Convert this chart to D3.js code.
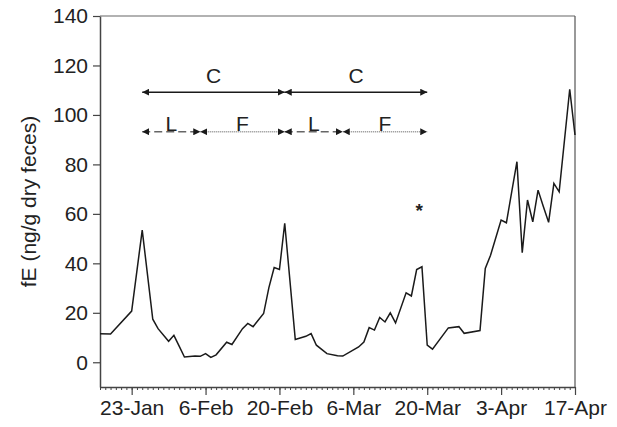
<!DOCTYPE html>
<html>
<head>
<meta charset="utf-8">
<script src="https://cdn.jsdelivr.net/npm/d3@7"></script>
<style>
  body { margin: 0; background: #fff; }
  text { font-family: "Liberation Sans", Arial, sans-serif; }
</style>
</head>
<body>
<div id="chart"></div>
<script>
// sampling dates and fE values (ng/g dry feces)
const dates = [
  "2007-01-17", "2007-01-19", "2007-01-23", "2007-01-25", "2007-01-27", "2007-01-28",
  "2007-01-30", "2007-01-31", "2007-02-01", "2007-02-02", "2007-02-04", "2007-02-05",
  "2007-02-06", "2007-02-07", "2007-02-08", "2007-02-10", "2007-02-11", "2007-02-13",
  "2007-02-14", "2007-02-15", "2007-02-17", "2007-02-18", "2007-02-19", "2007-02-20",
  "2007-02-21", "2007-02-23", "2007-02-25", "2007-02-26", "2007-02-27", "2007-03-01",
  "2007-03-03", "2007-03-04", "2007-03-07", "2007-03-08", "2007-03-09", "2007-03-10",
  "2007-03-11", "2007-03-12", "2007-03-13", "2007-03-14", "2007-03-16", "2007-03-17",
  "2007-03-18", "2007-03-19", "2007-03-20", "2007-03-21", "2007-03-24", "2007-03-26",
  "2007-03-27", "2007-03-30", "2007-03-31", "2007-04-01", "2007-04-03", "2007-04-04",
  "2007-04-06", "2007-04-07", "2007-04-08", "2007-04-09", "2007-04-10", "2007-04-11",
  "2007-04-12", "2007-04-13", "2007-04-14", "2007-04-16", "2007-04-17"
];
const values = [
  11.5, 11.4, 20.7, 53.4, 17.4, 13.6,
  8.5, 10.9, 6.5, 2.1, 2.5, 2.4,
  3.5, 2.0, 3.0, 8.1, 7.2, 13.6,
  15.7, 14.4, 19.7, 30.2, 38.3, 37.5,
  56.2, 9.2, 10.5, 11.6, 6.9, 3.5,
  2.6, 2.5, 6.2, 8.2, 14.0, 13.0,
  18.1, 16.3, 20.0, 15.9, 28.1, 26.8,
  37.5, 38.6, 6.9, 5.3, 13.9, 14.4,
  11.7, 12.8, 37.9, 43.3, 57.5, 56.4,
  81.1, 44.3, 65.6, 56.8, 69.6, 63.0,
  56.6, 72.3, 68.9, 110.4, 91.9
];

const xTickDates = ["2007-01-23", "2007-02-06", "2007-02-20", "2007-03-06", "2007-03-20", "2007-04-03", "2007-04-17"];
const yTicks = [0, 20, 40, 60, 80, 100, 120, 140];

// cycle annotations
const cycleStart = ["2007-01-25", "2007-02-21"];
const cycleEnd = ["2007-02-21", "2007-03-20"];
const lutealStart = ["2007-01-25", "2007-02-21"];
const lutealEnd = ["2007-02-05", "2007-03-04"];
const follStart = ["2007-02-05", "2007-03-04"];
const follEnd = ["2007-02-21", "2007-03-20"];
const starDate = "2007-03-18T12:00";
const starValue = 63;

const parse = d3.utcParse("%Y-%m-%d");
const parseT = d3.utcParse("%Y-%m-%dT%H:%M");
const data = dates.map(function(d, i) {
  return { date: parse(d), value: values[i] };
});

const width = 617;
const height = 427;
const margin = { top: 16, right: 42, bottom: 40, left: 100 };
const w = width - margin.left - margin.right;
const h = height - margin.top - margin.bottom;
const fontSize = "21px";

const svg = d3.select("#chart").append("svg")
  .attr("width", width)
  .attr("height", height);

const g = svg.append("g")
  .attr("transform", "translate(" + margin.left + "," + margin.top + ")");

const x = d3.scaleUtc()
  .domain([parse("2007-01-17"), parse("2007-04-17")])
  .range([0, w]);

const y = d3.scaleLinear()
  .domain([-10, 140])
  .range([h, 0]);

// frame top / right
g.append("line").attr("x1", 0).attr("x2", w).attr("y1", 0).attr("y2", 0)
  .attr("stroke", "#666").attr("stroke-width", 1.2);
g.append("line").attr("x1", w).attr("x2", w).attr("y1", 0).attr("y2", h)
  .attr("stroke", "#555").attr("stroke-width", 1.2);

// minor daily ticks
const minor = g.append("g")
  .attr("transform", "translate(0," + h + ")")
  .call(d3.axisBottom(x).ticks(d3.utcDay.every(1)).tickSize(3).tickFormat(""));
minor.select(".domain").remove();
minor.selectAll("line").attr("stroke", "#444");

// major x axis
const xAxis = g.append("g")
  .attr("transform", "translate(0," + h + ")")
  .call(d3.axisBottom(x)
    .tickValues(xTickDates.map(parse))
    .tickSize(8)
    .tickSizeOuter(0)
    .tickPadding(5)
    .tickFormat(d3.utcFormat("%-d-%b")));
xAxis.select(".domain").attr("stroke", "#444").attr("stroke-width", 1.5);
xAxis.selectAll("line").attr("stroke", "#444").attr("stroke-width", 1.2);
xAxis.selectAll("text").attr("font-size", fontSize).attr("fill", "#222")
  .attr("font-family", "Liberation Sans, Arial, sans-serif");

// y axis
const yAxis = g.append("g")
  .call(d3.axisLeft(y)
    .tickValues(yTicks)
    .tickSize(7)
    .tickSizeOuter(0)
    .tickPadding(5));
yAxis.select(".domain").attr("stroke", "#444").attr("stroke-width", 1.5);
yAxis.selectAll("line").attr("stroke", "#444").attr("stroke-width", 1.2);
yAxis.selectAll("text").attr("font-size", fontSize).attr("fill", "#222")
  .attr("font-family", "Liberation Sans, Arial, sans-serif");

svg.append("text")
  .attr("transform", "translate(36," + (margin.top + h / 2) + ") rotate(-90)")
  .attr("text-anchor", "middle")
  .attr("font-size", fontSize)
  .attr("fill", "#222")
  .text("fE (ng/g dry feces)");

// data line
const line = d3.line()
  .x(function(d) { return x(d.date); })
  .y(function(d) { return y(d.value); });

g.append("path")
  .datum(data)
  .attr("fill", "none")
  .attr("stroke", "#1a1a1a")
  .attr("stroke-width", 1.5)
  .attr("stroke-linejoin", "miter")
  .attr("d", line);

// arrow marker
svg.append("defs").append("marker")
  .attr("id", "arrow")
  .attr("viewBox", "0 0 10 10")
  .attr("refX", 10)
  .attr("refY", 5)
  .attr("markerWidth", 7)
  .attr("markerHeight", 7)
  .attr("markerUnits", "userSpaceOnUse")
  .attr("orient", "auto-start-reverse")
  .append("path")
  .attr("d", "M0,0L10,5L0,10z")
  .attr("fill", "#1a1a1a");

function drawSpans(starts, ends, level, label, dash, color, labelGap) {
  starts.forEach(function(s, i) {
    const x1 = x(parse(s));
    const x2 = x(parse(ends[i]));
    g.append("line")
      .attr("x1", x1).attr("x2", x2)
      .attr("y1", y(level)).attr("y2", y(level))
      .attr("stroke", color)
      .attr("stroke-width", 1.5)
      .attr("stroke-dasharray", dash)
      .attr("marker-start", "url(#arrow)")
      .attr("marker-end", "url(#arrow)");
    g.append("text")
      .attr("x", (x1 + x2) / 2)
      .attr("y", y(level) - labelGap)
      .attr("text-anchor", "middle")
      .attr("font-size", fontSize)
      .attr("fill", "#222")
      .text(label);
  });
}

drawSpans(cycleStart, cycleEnd, 109.2, "C", null, "#1a1a1a", 9);
drawSpans(lutealStart, lutealEnd, 93.2, "L", "8,4", "#666", 1);
drawSpans(follStart, follEnd, 93.2, "F", "1,1", "#888", 1);

g.append("text")
  .attr("x", x(parseT(starDate)))
  .attr("y", y(starValue) + 11)
  .attr("text-anchor", "middle")
  .attr("font-size", "19px")
  .attr("font-weight", "bold")
  .attr("fill", "#222")
  .text("*");
</script>
</body>
</html>
